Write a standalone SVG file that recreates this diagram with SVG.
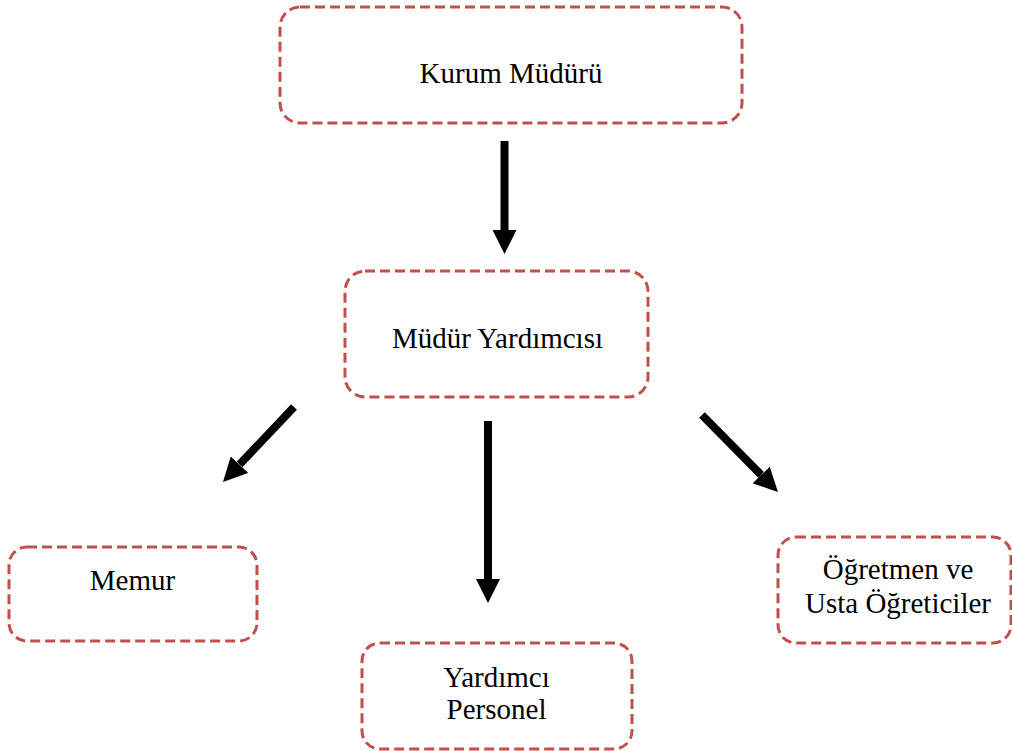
<svg xmlns="http://www.w3.org/2000/svg" width="1012" height="751" viewBox="0 0 1012 751">
<style>
.box{fill:#fff;stroke:#C0504D;stroke-width:3;stroke-dasharray:10 5}
.lbl{font-family:"Liberation Serif","Times New Roman",serif;font-size:29px;fill:#000;text-anchor:middle}
.arr{stroke:#000;stroke-width:8;fill:none;marker-end:url(#head)}
</style>
<defs>
<marker id="head" viewBox="0 0 24 24" refX="0" refY="12" markerWidth="24" markerHeight="24" markerUnits="userSpaceOnUse" orient="auto">
<path d="M0,0 L24,12 L0,24 Z" fill="#000"/>
</marker>
</defs>
<rect width="1012" height="751" fill="#fff"/>
<g id="n-kurum">
<rect class="box" x="280" y="7" width="462" height="116" rx="20"/>
<text class="lbl" x="511" y="83">Kurum Müdürü</text>
</g>
<g id="n-mudur-yard">
<rect class="box" x="345" y="271" width="303" height="126" rx="20"/>
<text class="lbl" x="497.5" y="348">Müdür Yardımcısı</text>
</g>
<g id="n-memur">
<rect class="box" x="9" y="547" width="248" height="94" rx="18"/>
<text class="lbl" x="132.5" y="590">Memur</text>
</g>
<g id="n-ogretmen">
<rect class="box" x="778" y="537" width="233" height="106" rx="18"/>
<text class="lbl" x="898" y="579">Öğretmen ve</text>
<text class="lbl" x="898" y="613">Usta Öğreticiler</text>
</g>
<g id="n-yardimci">
<rect class="box" x="362" y="643" width="270" height="106" rx="18"/>
<text class="lbl" x="496.5" y="687">Yardımcı</text>
<text class="lbl" x="496.5" y="719">Personel</text>
</g>
<g id="connectors">
<line class="arr" x1="504.5" y1="141" x2="504.5" y2="230"/>
<line class="arr" x1="488" y1="421" x2="488" y2="579"/>
<line class="arr" x1="294" y1="407" x2="239.5" y2="464.6"/>
<line class="arr" x1="702" y1="415" x2="761.1" y2="474.9"/>
</g>
</svg>
